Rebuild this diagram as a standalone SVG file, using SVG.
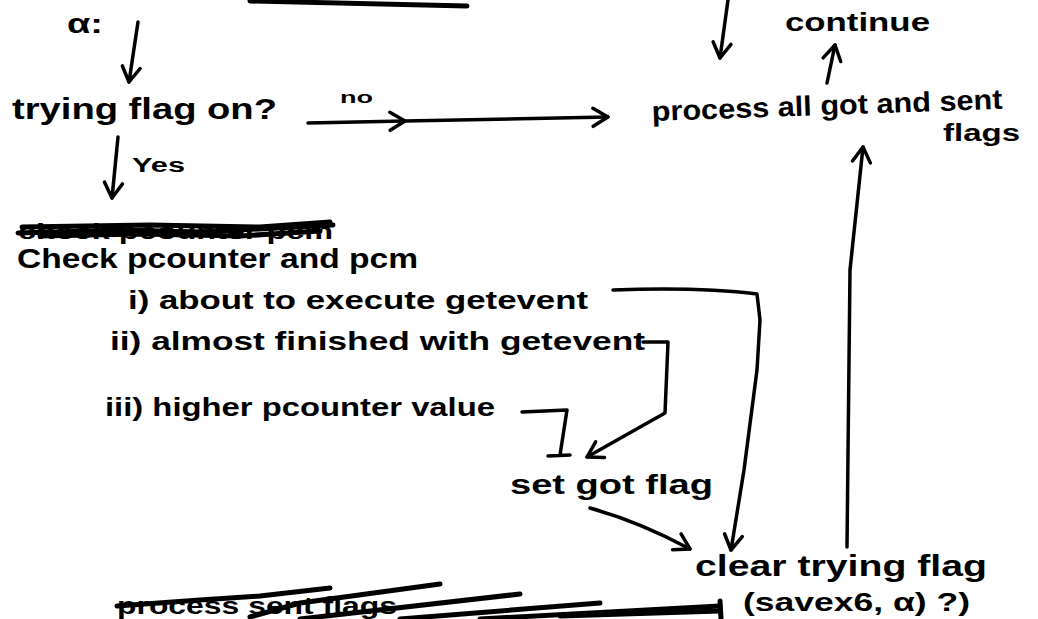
<svg xmlns="http://www.w3.org/2000/svg" width="1038" height="619" viewBox="0 0 1038 619">
<style>
  .t { font-family: "Liberation Sans", "DejaVu Sans", sans-serif; font-weight: bold; fill: #000; }
  .c { fill: none; stroke: #000; stroke-width: 3.5; stroke-linecap: round; stroke-linejoin: round; }
  .s { fill: none; stroke: #000; stroke-width: 5; stroke-linecap: round; stroke-linejoin: round; }
</style>
<defs>
  <marker id="arrow" viewBox="-20 -14 26 28" markerWidth="26" markerHeight="28" refX="0" refY="0" orient="auto" markerUnits="userSpaceOnUse" overflow="visible">
    <path d="M-15,-9 L0,0 L-15,9" fill="none" stroke="#000" stroke-width="3.5" stroke-linecap="round" stroke-linejoin="round"/>
  </marker>
</defs>
<rect width="1038" height="619" fill="#fff"/>

<!-- stroke at the top edge -->
<path class="s" d="M250,1 L467,6" stroke-width="4"/>

<g id="n-alpha"><text class="t" x="67" y="33" font-size="28" textLength="36" lengthAdjust="spacingAndGlyphs">α:</text></g>
<g id="n-trying"><text class="t" x="12" y="119" font-size="30" textLength="265" lengthAdjust="spacingAndGlyphs">trying flag on?</text></g>
<g id="n-continue"><text class="t" x="785" y="31" font-size="26" textLength="145" lengthAdjust="spacingAndGlyphs">continue</text></g>
<g id="n-process">
  <text class="t" x="652" y="121" font-size="28" textLength="351" lengthAdjust="spacingAndGlyphs" transform="rotate(-2 652 121)">process all got and sent</text>
  <text class="t" x="943" y="141" font-size="24" textLength="77" lengthAdjust="spacingAndGlyphs">flags</text>
</g>
<g id="n-crossed1">
  <text class="t" x="18" y="239" font-size="22" textLength="315" lengthAdjust="spacingAndGlyphs">check pcounter pcm</text>
  <path class="s" d="M18,233 L120,230 L200,232 L333,225"/>
  <path class="s" d="M22,227 L150,225 L260,227 L330,222" stroke-width="4"/>
  <path class="s" d="M40,236 L140,234 L240,236 L320,231" stroke-width="3"/>
</g>
<g id="n-check">
  <text class="t" x="17" y="268" font-size="27" textLength="401" lengthAdjust="spacingAndGlyphs">Check pcounter and pcm</text>
  <text class="t" x="128" y="309" font-size="26" textLength="460" lengthAdjust="spacingAndGlyphs">i) about to execute getevent</text>
  <text class="t" x="110" y="350" font-size="26" textLength="535" lengthAdjust="spacingAndGlyphs">ii) almost finished with getevent</text>
  <text class="t" x="105" y="416" font-size="26" textLength="390" lengthAdjust="spacingAndGlyphs">iii) higher pcounter value</text>
</g>
<g id="n-setgot"><text class="t" x="510" y="494" font-size="28" textLength="203" lengthAdjust="spacingAndGlyphs">set got flag</text></g>
<g id="n-clear">
  <text class="t" x="695" y="576" font-size="30" textLength="292" lengthAdjust="spacingAndGlyphs">clear trying flag</text>
  <text class="t" x="743" y="611" font-size="26" textLength="227" lengthAdjust="spacingAndGlyphs">(savex6, α) ?)</text>
</g>
<g id="n-crossed2">
  <text class="t" x="117" y="614" font-size="24" textLength="280" lengthAdjust="spacingAndGlyphs">process sent flags</text>
  <path class="s" d="M117,606 L200,600 L260,596 L330,588"/>
  <path class="s" d="M250,617 L300,603 L440,584"/>
  <path class="s" d="M300,619 L520,594"/>
  <path class="s" d="M400,619 L600,603"/>
  <path class="s" d="M480,619 L720,606"/>
  <path class="s" d="M560,616 L720,611"/>
  <path class="s" d="M720,601 L721,619" stroke-width="3.5"/>
</g>

<g id="connectors">
  <path class="c" d="M138,22 L129,82" marker-end="url(#arrow)"/>
  <path class="c" d="M308,123 L405,121 L608,117" marker-mid="url(#arrow)" marker-end="url(#arrow)"/>
  <path class="c" d="M728,0 L720,58" marker-end="url(#arrow)"/>
  <path class="c" d="M827,83 L835,45" marker-end="url(#arrow)"/>
  <path class="c" d="M118,137 L112,198" marker-end="url(#arrow)"/>
  <path class="c" d="M613,290 Q700,287 757,294 L760,320 L757,370 L744,470 L731,550" marker-end="url(#arrow)"/>
  <path class="c" d="M643,342 L668,342 L665,413 L587,457" marker-end="url(#arrow)"/>
  <path class="c" d="M522,412 L567,410 L560,455 M548,456 L570,455"/>
  <path class="c" d="M590,508 Q640,522 690,549" marker-end="url(#arrow)"/>
  <path class="c" d="M847,547 L850,270 L863,147" marker-end="url(#arrow)"/>
  <text class="t" x="340" y="103" font-size="16" textLength="33" lengthAdjust="spacingAndGlyphs">no</text>
  <text class="t" x="132" y="172" font-size="20" textLength="53" lengthAdjust="spacingAndGlyphs">Yes</text>
</g>
</svg>
